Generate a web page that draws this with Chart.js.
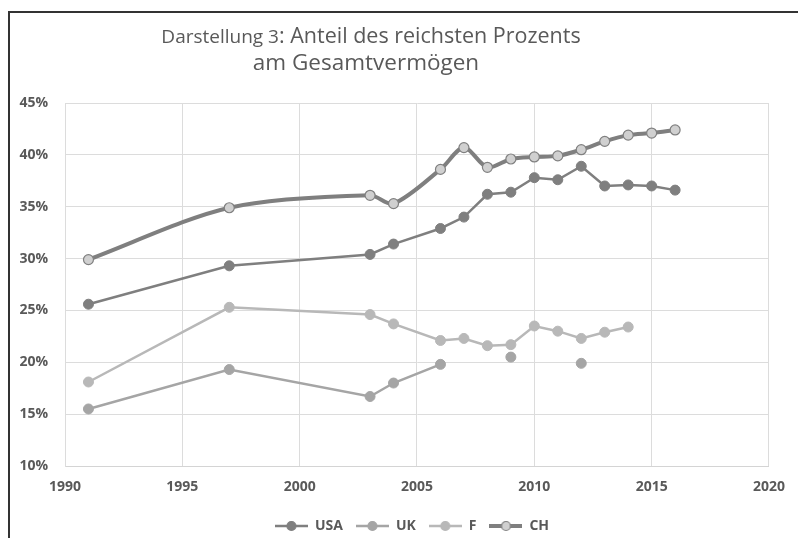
<!DOCTYPE html>
<html lang="de">
<head>
    <meta charset="UTF-8">
    <title>Anteil des reichsten Prozents am Gesamtvermögen</title>
    <script src="https://cdn.jsdelivr.net/npm/chart.js"></script>
    <style>
        html, body {
            margin: 0;
            padding: 0;
            background: #fff;
        }
        .frame {
            position: absolute;
            left: 8px;
            top: 11px;
            width: 800px;
            height: 540px;
            border-left: 2px solid #333;
            border-top: 2px solid #333;
        }
        .wrap {
            position: absolute;
            left: 0;
            top: 0;
            width: 798px;
            height: 538px;
        }
    </style>
</head>
<body>
    <div class="frame"></div>
    <div class="wrap"><canvas id="grafico" width="798" height="538"></canvas></div>

    <script>
        // Werte
        const jahre = [1991, 1997, 2003, 2004, 2006, 2007, 2008, 2009, 2010, 2011, 2012, 2013, 2014, 2015, 2016];
        const usa = [25.6, 29.3, 30.4, 31.4, 32.9, 34.0, 36.2, 36.4, 37.8, 37.6, 38.9, 37.0, 37.1, 37.0, 36.6];
        const ch  = [29.9, 34.9, 36.1, 35.3, 38.6, 40.7, 38.8, 39.6, 39.8, 39.9, 40.5, 41.3, 41.9, 42.1, 42.4];
        const f   = [18.1, 25.3, 24.6, 23.7, 22.1, 22.3, 21.6, 21.7, 23.5, 23.0, 22.3, 22.9, 23.4, null, null];
        const uk  = [15.5, 19.3, 16.7, 18.0, 19.8, null, null, 20.5, null, null, 19.9, null, null, null, null];

        const xTicks = [1990, 1995, 2000, 2005, 2010, 2015, 2020];
        const yMin = 10, yMax = 45, yStep = 5;

        function punkte(werte) {
            return jahre.map((j, i) => ({ x: j, y: werte[i] }));
        }

        // Legendensymbol: Linie mit Kreis
        function symbol(farbe, linie, fuell, rand) {
            const c = document.createElement('canvas');
            c.width = 33; c.height = 12;
            const g = c.getContext('2d');
            g.strokeStyle = farbe;
            g.lineWidth = linie;
            g.beginPath(); g.moveTo(0, 6); g.lineTo(33, 6); g.stroke();
            g.beginPath(); g.arc(16.5, 6, 4.5, 0, Math.PI * 2);
            g.fillStyle = fuell; g.fill();
            g.lineWidth = 1.2; g.strokeStyle = rand; g.stroke();
            return c;
        }

        const titelPlugin = {
            id: 'titel',
            afterLayout(chart) {
                // Legende wie im Original etwas nach rechts/unten
                const lg = chart.legend;
                lg.left += 21; lg.right += 21;
                lg.top += 5; lg.bottom += 5;
            },
            afterDraw(chart) {
                const ctx = chart.ctx;
                ctx.save();
                ctx.fillStyle = '#595959';
                ctx.textBaseline = 'alphabetic';
                const teil1 = 'Darstellung 3';
                const teil2 = ': Anteil des reichsten Prozents';
                const f1 = '19px "Open Sans", sans-serif';
                const f2 = '21.5px "Open Sans", sans-serif';
                ctx.font = f1; const w1 = ctx.measureText(teil1).width;
                ctx.font = f2; const w2 = ctx.measureText(teil2).width;
                const x = 371 - (w1 + w2) / 2;
                ctx.textAlign = 'left';
                ctx.font = f1; ctx.fillText(teil1, x, 43);
                ctx.font = f2; ctx.fillText(teil2, x + w1, 43);
                ctx.font = '22.5px "Open Sans", sans-serif';
                ctx.textAlign = 'center';
                ctx.fillText('am Gesamtvermögen', 366, 70);
                ctx.restore();
            }
        };

        const achsenFont = { family: '"Open Sans", sans-serif', size: 14, weight: 'bold' };

        new Chart(document.getElementById('grafico'), {
            type: 'line',
            data: {
                datasets: [
                    { label: 'USA', data: punkte(usa), borderColor: '#7f7f7f', backgroundColor: '#7f7f7f',
                      borderWidth: 2.5, pointRadius: 5, pointBackgroundColor: '#7f7f7f', pointBorderColor: '#7f7f7f',
                      pointBorderWidth: 1, tension: 0, order: 2,
                      legendSymbol: symbol('#7f7f7f', 2.5, '#7f7f7f', '#7f7f7f') },
                    { label: 'UK', data: punkte(uk), borderColor: '#a5a5a5', backgroundColor: '#a5a5a5',
                      borderWidth: 2.5, pointRadius: 5, pointBackgroundColor: '#a5a5a5', pointBorderColor: '#a5a5a5',
                      pointBorderWidth: 1, tension: 0, spanGaps: false, order: 3,
                      legendSymbol: symbol('#a5a5a5', 2.5, '#a5a5a5', '#a5a5a5') },
                    { label: 'F', data: punkte(f), borderColor: '#b8b8b8', backgroundColor: '#b8b8b8',
                      borderWidth: 2.5, pointRadius: 5, pointBackgroundColor: '#b8b8b8', pointBorderColor: '#b8b8b8',
                      pointBorderWidth: 1, tension: 0, order: 4,
                      legendSymbol: symbol('#b8b8b8', 2.5, '#b8b8b8', '#b8b8b8') },
                    { label: 'CH', data: punkte(ch), borderColor: '#7f7f7f', backgroundColor: '#d0d0d0',
                      borderWidth: 4, pointRadius: 5, pointBackgroundColor: '#d0d0d0', pointBorderColor: '#808080',
                      pointBorderWidth: 1.2, tension: 0.3, order: 1,
                      legendSymbol: symbol('#7f7f7f', 4, '#d0d0d0', '#808080') }
                ]
            },
            options: {
                responsive: false,
                animation: false,
                layout: { padding: { left: 10, right: 26, top: 103, bottom: 0 } },
                scales: {
                    x: {
                        type: 'linear', min: 1990, max: 2020,
                        afterBuildTicks: s => { s.ticks = xTicks.map(v => ({ value: v })); },
                        afterFit: s => { s.height = 35; },
                        grid: { color: '#dcdcdc', drawTicks: false },
                        border: { color: '#d4d4d4' },
                        ticks: { font: achsenFont, color: '#595959', padding: 13, maxRotation: 0,
                                 callback: v => String(v) }
                    },
                    y: {
                        min: yMin, max: yMax,
                        ticks: { stepSize: yStep, font: achsenFont, color: '#595959', padding: 17,
                                 callback: v => v + '%' },
                        afterFit: s => { s.width = 55; },
                        grid: { color: '#dcdcdc', drawTicks: false },
                        border: { color: '#dcdcdc' }
                    }
                },
                plugins: {
                    title: { display: false },
                    tooltip: { enabled: false },
                    legend: {
                        position: 'bottom',
                        labels: {
                            font: achsenFont, color: '#595959', usePointStyle: true, pointStyleWidth: 33,
                            padding: 13,
                            generateLabels: chart => chart.data.datasets.map((ds, i) => ({
                                text: ds.label, pointStyle: ds.legendSymbol, datasetIndex: i,
                                fillStyle: ds.borderColor, strokeStyle: ds.borderColor, lineWidth: 0,
                                fontColor: '#595959', hidden: false
                            }))
                        }
                    }
                }
            },
            plugins: [titelPlugin]
        });
    </script>
</body>
</html>
